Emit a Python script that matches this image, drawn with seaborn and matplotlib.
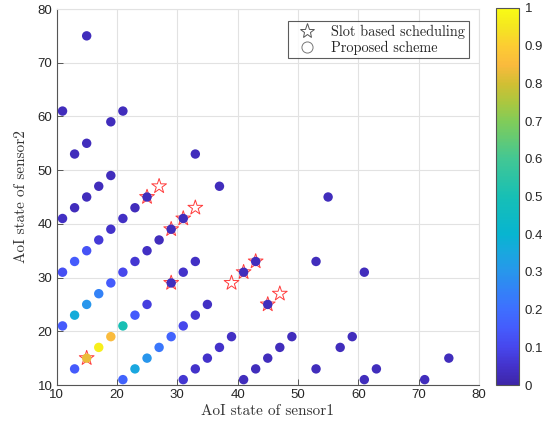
import numpy as np
import pandas as pd
import matplotlib
matplotlib.use("Agg")
import matplotlib.pyplot as plt
import seaborn as sns
from matplotlib.colors import LinearSegmentedColormap, Normalize
from matplotlib.cm import ScalarMappable
from matplotlib.lines import Line2D

# ---- data ----
dot_x = [11, 13, 15, 17, 19,
         11, 21, 19, 15, 13, 33, 15, 37, 55,
         21, 23, 25,
         11, 13, 15, 17, 19,
         21, 23, 25, 27, 29, 31,
         31, 33, 29,
         41, 43, 45, 53, 61,
         11, 13, 15, 17, 19,
         13, 15, 17, 19,
         21, 23, 25,
         21, 23, 25, 27, 29,
         31, 33, 35,
         31, 33, 35, 37, 39,
         41, 43, 45, 47, 49,
         53, 57, 59, 61, 63, 71, 75]
dot_y = [41, 43, 45, 47, 49,
         61, 61, 59, 55, 53, 53, 75, 47, 45,
         41, 43, 45,
         31, 33, 35, 37, 39,
         31, 33, 35, 37, 39, 41,
         31, 33, 29,
         31, 33, 25, 33, 31,
         21, 23, 25, 27, 29,
         13, 15, 17, 19,
         21, 23, 25,
         11, 13, 15, 17, 19,
         21, 23, 25,
         11, 13, 15, 17, 19,
         11, 13, 15, 17, 19,
         13, 17, 19, 11, 13, 11, 15]
dot_val = [0.04, 0.03, 0.03, 0.03, 0.03,
           0.03, 0.03, 0.03, 0.03, 0.03, 0.03, 0.03, 0.03, 0.03,
           0.04, 0.03, 0.03,
           0.12, 0.15, 0.13, 0.07, 0.05,
           0.10, 0.06, 0.04, 0.03, 0.03, 0.03,
           0.05, 0.04, 0.03,
           0.03, 0.03, 0.03, 0.03, 0.03,
           0.15, 0.37, 0.30, 0.25, 0.15,
           0.15, 0.83, 0.97, 0.85,
           0.50, 0.15, 0.08,
           0.17, 0.35, 0.30, 0.22, 0.17,
           0.10, 0.06, 0.04,
           0.06, 0.05, 0.05, 0.05, 0.04,
           0.03, 0.03, 0.03, 0.03, 0.03,
           0.03, 0.03, 0.03, 0.03, 0.03, 0.03, 0.03]

star_x = [15, 25, 27, 29, 31, 33, 29, 39, 41, 43, 45, 47]
star_y = [15, 45, 47, 39, 41, 43, 29, 29, 31, 33, 25, 27]

x_ticks = [10, 20, 30, 40, 50, 60, 70, 80]
y_ticks = [10, 20, 30, 40, 50, 60, 70, 80]
cbar_ticks = [0, 0.1, 0.2, 0.3, 0.4, 0.5, 0.6, 0.7, 0.8, 0.9, 1]
cbar_labels = ["0", "0.1", "0.2", "0.3", "0.4", "0.5", "0.6", "0.7", "0.8", "0.9", "1"]

legend_labels = ["Slot based scheduling", "Proposed scheme"]
x_label = "AoI state of sensor1"
y_label = "AoI state of sensor2"

# ---- parula-like colormap ----
parula_pts = [
    (0.00, (0.2422, 0.1504, 0.6603)),
    (0.05, (0.2650, 0.2000, 0.8000)),
    (0.10, (0.2780, 0.2800, 0.9300)),
    (0.15, (0.2700, 0.3600, 0.9900)),
    (0.20, (0.2440, 0.4358, 0.9988)),
    (0.25, (0.2000, 0.5100, 0.9700)),
    (0.30, (0.1540, 0.5902, 0.9218)),
    (0.35, (0.1000, 0.6550, 0.8750)),
    (0.40, (0.0297, 0.7082, 0.8163)),
    (0.50, (0.0900, 0.7500, 0.7100)),
    (0.60, (0.2600, 0.7800, 0.5800)),
    (0.70, (0.5044, 0.7993, 0.3480)),
    (0.75, (0.6700, 0.7800, 0.2500)),
    (0.80, (0.8200, 0.7500, 0.2000)),
    (0.85, (0.9800, 0.7300, 0.2400)),
    (0.90, (0.9900, 0.8000, 0.2000)),
    (0.95, (0.9600, 0.9000, 0.1300)),
    (1.00, (0.9769, 0.9839, 0.0805)),
]
parula = LinearSegmentedColormap.from_list("parula_like", parula_pts)

sns.set_theme(style="white")
plt.rcParams["font.family"] = ["Liberation Sans", "DejaVu Sans"]

fig = plt.figure(figsize=(5.42, 4.32), dpi=100)
ax = fig.add_axes([56.5 / 542, (432 - 385) / 432, 422.5 / 542, 376 / 432])

dots = pd.DataFrame({"x": dot_x, "y": dot_y, "v": dot_val})
stars = pd.DataFrame({"x": star_x, "y": star_y})

sns.scatterplot(data=stars, x="x", y="y", marker="*", s=125,
                facecolor="none", edgecolor="#ff3b3b", linewidth=0.7,
                ax=ax, zorder=3, legend=False)
sns.scatterplot(data=dots, x="x", y="y", hue="v", palette=parula,
                hue_norm=(0, 1), s=46, edgecolor="none", linewidth=0,
                ax=ax, zorder=4, legend=False)

ax.set_xlim(10, 80)
ax.set_ylim(10, 80)
ax.set_xticks(x_ticks)
ax.set_yticks(y_ticks)
ax.set_xticklabels([str(t) for t in x_ticks])
ax.set_yticklabels([str(t) for t in y_ticks])
ax.grid(True, color="#e2e2e2", linewidth=0.8)
ax.set_axisbelow(True)
for side in ["left", "bottom"]:
    ax.spines[side].set_color("#555555")
    ax.spines[side].set_linewidth(0.8)
for side in ["top", "right"]:
    ax.spines[side].set_color("#e2e2e2")
    ax.spines[side].set_linewidth(0.8)
ax.tick_params(axis="both", direction="in", length=4, width=0.7,
               color="#555555", labelsize=9.5, labelcolor="#262626", pad=3,
               bottom=True, left=True, top=False, right=False)

ax.set_xlabel(x_label, fontfamily="cmr10", fontsize=11, color="#333333", labelpad=2)
ax.set_ylabel(y_label, fontfamily="cmr10", fontsize=11, color="#333333", labelpad=7)

handles = [
    Line2D([], [], linestyle="none", marker="*", markersize=11,
           markerfacecolor="none", markeredgecolor="#555555", markeredgewidth=0.7),
    Line2D([], [], linestyle="none", marker="o", markersize=8,
           markerfacecolor="none", markeredgecolor="#777777", markeredgewidth=0.7),
]
leg = ax.legend(handles, legend_labels, loc="upper right",
                bbox_to_anchor=(0.976, 0.968), prop={"family": "cmr10", "size": 10.3},
                frameon=True, fancybox=False, edgecolor="#333333",
                borderpad=0.25, labelspacing=0.12, handletextpad=0.6,
                handlelength=2.2, borderaxespad=0)
leg.get_frame().set_linewidth(0.8)

# colorbar
cax = fig.add_axes([496 / 542, (432 - 385) / 432, 23 / 542, 377 / 432])
sm = ScalarMappable(norm=Normalize(0, 1), cmap=parula)
cb = fig.colorbar(sm, cax=cax, ticks=cbar_ticks)
cb.ax.set_yticklabels(cbar_labels)
cb.outline.set_edgecolor("#555555")
cb.outline.set_linewidth(0.8)
cb.ax.tick_params(direction="in", length=3.5, width=0.7, color="#555555",
                  labelsize=9.5, labelcolor="#262626", pad=4)

fig.savefig("out.png", dpi=100)
